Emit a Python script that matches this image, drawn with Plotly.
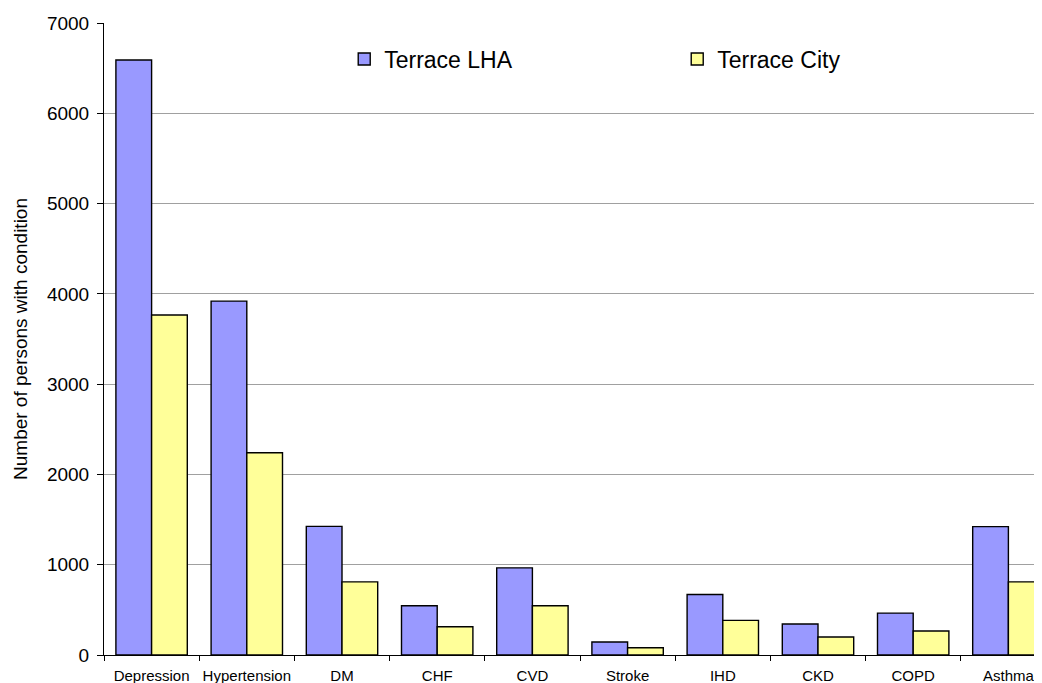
import plotly.graph_objects as go

conditions = ['Depression', 'Hypertension', 'DM', 'CHF', 'CVD',
              'Stroke', 'IHD', 'CKD', 'COPD', 'Asthma']
terrace_lha = [6590, 3920, 1425, 545, 965, 144, 670, 343, 464, 1422]
terrace_city = [3765, 2240, 810, 313, 545, 81, 383, 199, 265, 810]

y_ticks = [0, 1000, 2000, 3000, 4000, 5000, 6000, 7000]

FONT = 'Liberation Sans, Arial, sans-serif'

fig = go.Figure()
fig.add_trace(go.Bar(
    x=conditions, y=terrace_lha, name='Terrace LHA',
    marker=dict(color='#9999FF', line=dict(color='#000000', width=1.4)),
))
fig.add_trace(go.Bar(
    x=conditions, y=terrace_city, name='Terrace City',
    marker=dict(color='#FFFF99', line=dict(color='#000000', width=1.4)),
))

# page body has an 8px margin -> figure is 8px smaller, margins shifted
fig.update_layout(
    width=1034, height=675,
    margin=dict(l=96, r=0, t=15, b=28),
    paper_bgcolor='white', plot_bgcolor='white',
    font=dict(family=FONT, color='#000000'),
    barmode='group', bargap=0.25, bargroupgap=0,
    showlegend=True,
    legend=dict(
        orientation='h', x=0.2561, y=0.977, xanchor='left', yanchor='top',
        entrywidth=288, entrywidthmode='pixels',
        font=dict(size=23, family=FONT, color='#000000'),
        bgcolor='rgba(0,0,0,0)',
    ),
    xaxis=dict(
        range=[-0.5, 9.353], tickson='boundaries', tickangle=0,
        ticks='outside', ticklen=5, tickcolor='#000000',
        showline=True, linecolor='#000000', linewidth=1,
        showgrid=False, automargin=False, ticklabelstandoff=7,
        tickfont=dict(size=15, family=FONT, color='#000000'),
    ),
    yaxis=dict(
        range=[0, 7000], tickvals=y_ticks,
        ticks='outside', ticklen=6, tickcolor='#000000',
        showline=True, linecolor='#000000', linewidth=1,
        showgrid=True, gridcolor='#A0A0A0', gridwidth=1,
        zeroline=False, automargin=False, ticklabelstandoff=4,
        tickfont=dict(size=19, family=FONT, color='#000000'),
        title=dict(text='Number of persons with condition', standoff=14,
                   font=dict(size=19, family=FONT, color='#000000')),
    ),
)

fig.write_html('out.html')
